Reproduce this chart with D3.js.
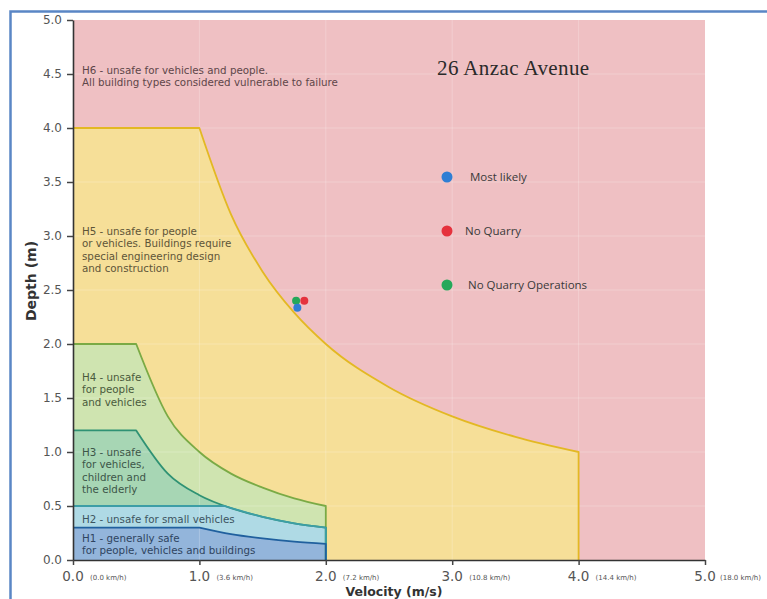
<!DOCTYPE html>
<html><head><meta charset="utf-8">
<script src="https://cdn.jsdelivr.net/npm/d3@7"></script>
<style>body{margin:0;background:#fff}svg{display:block}</style>
</head><body><svg id="chart" width="767" height="599"></svg>
<script>
// ---- data ----
const velocityTicks = [0, 1, 2, 3, 4, 5];
const kmhLabels = ["(0.0 km/h)", "(3.6 km/h)", "(7.2 km/h)", "(10.8 km/h)", "(14.4 km/h)", "(18.0 km/h)"];
const depthTicks = [0, 0.5, 1, 1.5, 2, 2.5, 3, 3.5, 4, 4.5, 5];

// upper boundary of each hazard zone (first segment flat, rest curved)
const h5Velocity = [0, 1, 1.25, 1.5, 1.75, 2, 2.5, 3, 3.5, 4];
const h5Depth    = [4, 4, 3.2, 2.67, 2.29, 2, 1.6, 1.33, 1.14, 1.0];
const h4Velocity = [0, 0.5, 0.75, 1, 1.25, 1.5, 1.75, 2];
const h4Depth    = [2, 2, 1.33, 1.0, 0.8, 0.67, 0.57, 0.5];
const h3Velocity = [0, 0.5, 0.75, 1, 1.25, 1.5, 1.75, 2];
const h3Depth    = [1.2, 1.2, 0.8, 0.6, 0.48, 0.4, 0.34, 0.3];
const h2Velocity = [0, 1.2, 1.5, 1.75, 2];
const h2Depth    = [0.5, 0.5, 0.4, 0.34, 0.3];
const h1Velocity = [0, 1, 1.25, 1.5, 1.75, 2];
const h1Depth    = [0.3, 0.3, 0.24, 0.2, 0.17, 0.15];

const zoneLabels = {
  H6: ["H6 - unsafe for vehicles and people.", "All building types considered vulnerable to failure"],
  H5: ["H5 - unsafe for people", "or vehicles. Buildings require", "special engineering design", "and construction"],
  H4: ["H4 - unsafe", "for people", "and vehicles"],
  H3: ["H3 - unsafe", "for vehicles,", "children and", "the elderly"],
  H2: ["H2 - unsafe for small vehicles"],
  H1: ["H1 - generally safe", "for people, vehicles and buildings"]
};

const seriesNames = ["Most likely", "No Quarry", "No Quarry Operations"];
const seriesVelocity = [1.775, 1.83, 1.765];
const seriesDepth = [2.335, 2.4, 2.4];
const seriesColors = ["#2f7ed4", "#e5323d", "#25a85a"];

const chartTitle = "26 Anzac Avenue";

// ---- drawing ----
const svg = d3.select("#chart");
const x = d3.scaleLinear().domain([0, 5]).range([73, 705]);
const y = d3.scaleLinear().domain([0, 5]).range([560, 20]);

// outer frame (left/top)
svg.append("path").attr("d", "M10.5,599V11.5H767").attr("fill", "none")
  .attr("stroke", "#5a86c5").attr("stroke-width", 2.5);

function boundary(vs, ds) {
  const pts = vs.map((v, i) => [x(v), y(ds[i])]);
  const flat = "M" + pts[0] + "L" + pts[1];
  const curve = d3.line().curve(d3.curveMonotoneX)(pts.slice(1));
  return flat + curve.replace(/^M[^LC]*/, "");
}
function areaPath(vs, ds) {
  const b = boundary(vs, ds);
  return "M" + x(0) + "," + y(0) + "L" + b.slice(1) + "L" + x(vs[vs.length - 1]) + "," + y(0) + "Z";
}
function outlinePath(vs, ds) {
  return boundary(vs, ds) + "L" + x(vs[vs.length - 1]) + "," + y(0);
}

// H6 background
svg.append("rect").attr("x", x(0)).attr("y", y(5)).attr("width", x(5) - x(0)).attr("height", y(0) - y(5))
  .attr("fill", "#efc0c3");

const zones = [
  {v: h5Velocity, d: h5Depth, fill: "#f6df98", stroke: "#e3b823"},
  {v: h4Velocity, d: h4Depth, fill: "#cfe4b0", stroke: "#7aaa45"},
  {v: h3Velocity, d: h3Depth, fill: "#a7d6b4", stroke: "#2f9274"},
  {v: h2Velocity, d: h2Depth, fill: "#afdae5", stroke: "#3d9ea6"},
  {v: h1Velocity, d: h1Depth, fill: "#93b5db", stroke: "#20609e"}
];
zones.forEach(z => {
  svg.append("path").attr("d", areaPath(z.v, z.d)).attr("fill", z.fill);
});

// faint grid
const grid = svg.append("g").attr("stroke", "#ffffff").attr("stroke-opacity", 0.22).attr("stroke-width", 1);
depthTicks.slice(1, -1).forEach(d => grid.append("line").attr("x1", x(0)).attr("x2", x(5)).attr("y1", y(d)).attr("y2", y(d)));
velocityTicks.slice(1, -1).forEach(v => grid.append("line").attr("x1", x(v)).attr("x2", x(v)).attr("y1", y(0)).attr("y2", y(5)));

zones.forEach(z => {
  svg.append("path").attr("d", outlinePath(z.v, z.d)).attr("fill", "none")
    .attr("stroke", z.stroke).attr("stroke-width", 1.8).attr("stroke-linejoin", "round");
});

// zone labels
function labelBlock(lines, x0, y0, color) {
  const t = svg.append("text").attr("x", x0).attr("y", y0)
    .attr("font-family", "DejaVu Sans, Verdana, sans-serif").attr("font-size", 10.3).attr("fill", color);
  lines.forEach((l, i) => t.append("tspan").attr("x", x0).attr("dy", i === 0 ? 0 : 12.3).text(l));
}
labelBlock(zoneLabels.H6, 82, 74, "#5e4649");
labelBlock(zoneLabels.H5, 82, 235, "#5e5538");
labelBlock(zoneLabels.H4, 82, 381, "#4a5a3c");
labelBlock(zoneLabels.H3, 82, 456, "#3c5548");
labelBlock(zoneLabels.H2, 82, 523, "#3c5460");
labelBlock(zoneLabels.H1, 82, 542, "#2f4460");

// axes
const yAxis = svg.append("g").attr("transform", `translate(${x(0)},0)`)
  .call(d3.axisLeft(y).tickValues(depthTicks).tickFormat(d3.format(".1f")).tickSize(6).tickSizeOuter(0));
yAxis.select(".domain").attr("stroke", "#333").attr("stroke-width", 1.6);
yAxis.selectAll(".tick line").attr("stroke", "#444").attr("stroke-width", 1.5);
yAxis.selectAll(".tick text").attr("font-family", "DejaVu Sans, Verdana, sans-serif").attr("font-size", 12)
  .attr("fill", "#555").attr("dx", "-2");

const xAxis = svg.append("g").attr("transform", `translate(0,${y(0)})`)
  .call(d3.axisBottom(x).tickValues(velocityTicks).tickFormat("").tickSize(5).tickSizeOuter(0));
xAxis.select(".domain").attr("stroke", "#333").attr("stroke-width", 1.6);
xAxis.selectAll(".tick line").attr("stroke", "#444").attr("stroke-width", 1.5);

velocityTicks.forEach((v, i) => {
  svg.append("text").attr("x", x(v)).attr("y", 581).attr("text-anchor", "middle")
    .attr("font-family", "DejaVu Sans, Verdana, sans-serif").attr("font-size", 13.5).attr("fill", "#555")
    .text(d3.format(".1f")(v));
  svg.append("text").attr("x", x(v) + (i === 5 ? 15 : 17)).attr("y", 580)
    .attr("font-family", "DejaVu Sans, Verdana, sans-serif").attr("font-size", 7).attr("fill", "#555")
    .text(kmhLabels[i]);
});

svg.append("text").attr("x", 394).attr("y", 596).attr("text-anchor", "middle")
  .attr("font-family", "DejaVu Sans, Verdana, sans-serif").attr("font-weight", "bold").attr("font-size", 12.5)
  .attr("fill", "#333").text("Velocity (m/s)");
svg.append("text").attr("transform", "translate(36,281) rotate(-90)").attr("text-anchor", "middle")
  .attr("font-family", "DejaVu Sans, Verdana, sans-serif").attr("font-weight", "bold").attr("font-size", 14)
  .attr("fill", "#333").text("Depth (m)");

// title
svg.append("text").attr("x", 437).attr("y", 75).attr("font-family", "Liberation Serif, serif")
  .attr("font-size", 21).attr("letter-spacing", 0.4).attr("fill", "#2a2a2a").text(chartTitle);

// legend
const legendY = [177, 231, 285];
const legendTextX = [470, 465, 468];
seriesNames.forEach((n, i) => {
  svg.append("circle").attr("cx", 447).attr("cy", legendY[i]).attr("r", 5.5).attr("fill", seriesColors[i]);
  svg.append("text").attr("x", legendTextX[i]).attr("y", legendY[i] + 4)
    .attr("font-family", "Open Sans, Liberation Sans, sans-serif").attr("font-size", 11.5).attr("fill", "#3a3a3a")
    .text(n);
});

// data points
const order = [1, 2, 0];
order.forEach(i => {
  svg.append("circle").attr("cx", x(seriesVelocity[i])).attr("cy", y(seriesDepth[i])).attr("r", 4)
    .attr("fill", seriesColors[i]);
});
</script>
</body></html>
